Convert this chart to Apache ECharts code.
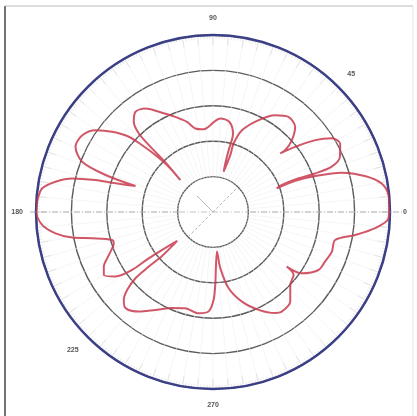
<!DOCTYPE html>
<html><head><meta charset="utf-8">
<script src="https://cdn.jsdelivr.net/npm/echarts@6/dist/echarts.min.js"></script>
<style>html,body{margin:0;padding:0;background:#fff}#c{width:417px;height:416px}</style>
</head><body><div id="c"></div>
<script>
// compass angle (deg, clockwise from top) of each traced point of the pattern
const patternAngle = [358.2,4.5,10.2,14.3,14.2,14.2,14.8,16.9,16.75,19.5,26.4,32.7,38.4,44.0,47.7,49.4,48.9,51.6,54.9,58.2,61.7,66.5,69.1,69.3,68.5,68.6,69.7,69.2,70.6,73.0,76.7,80.4,84.5,88.3,92.1,95.7,99.2,102.9,108.4,113.9,118.8,124.6,126.5,128.0,133.3,139.2,145.3,148.4,155.0,162.1,168.4,172.6,174.2,176.9,178.1,179.6,182.5,188.1,196.0,203.1,210.5,216.7,222.3,225.4,227.8,229.5,229.6,229.2,231.1,233.3,234.2,234.4,236.5,240.0,243.4,247.6,252.5,254.5,257.7,259.7,262.3,265.7,270.1,273.9,277.9,280.9,283.4,285.2,286.4,288.5,289.0,291.0,295.4,300.4,304.9,308.5,311.8,313.3,314.7,315.6,314.4,316.2,316.2,316.6,318.7,322.3,326.9,331.6,338.4,343.9,348.1,353.6,358.2];
// radial level (ring units) of each traced point
const patternGain = [2.45,2.65,2.59,2.29,1.80,1.42,1.18,1.68,2.02,2.45,2.90,3.25,3.43,3.34,3.01,2.69,2.52,2.96,3.53,3.95,4.08,3.91,3.59,3.08,2.60,2.09,1.92,2.48,3.06,3.80,4.41,4.83,4.98,4.98,4.96,4.60,4.07,3.54,3.54,3.46,3.40,3.05,2.59,2.89,3.00,3.34,3.42,3.35,3.05,2.66,2.20,1.60,1.12,1.54,2.01,2.48,2.81,2.89,2.83,2.95,3.21,3.51,3.67,3.54,3.27,2.88,2.38,1.90,1.30,1.79,2.24,2.81,3.30,3.56,3.45,3.18,2.94,2.96,3.49,4.04,4.49,4.84,4.99,4.97,4.87,4.53,4.09,3.44,2.87,2.31,3.21,3.96,4.30,4.28,4.04,3.64,3.19,2.75,2.29,1.79,1.29,1.94,2.55,3.05,3.39,3.58,3.49,3.22,2.89,2.65,2.41,2.35,2.45];
const ringMin = 0, ringMax = 5, ringStep = 1;
const angleTickValues = [0,45,90,180,225,270];
const angleTickLabels = ['90','45','0','270','225','180'];

const chart = echarts.init(document.getElementById('c'), null, {renderer:'canvas'});
const data = patternAngle.map((a,i)=>[patternGain[i], a]);
chart.setOption({
  animation:false,
  backgroundColor:'#fff',
  polar:{center:[213,212], radius:177},
  angleAxis:{
    type:'value', min:0, max:360, interval:5, startAngle:90, clockwise:true,
    axisLine:{lineStyle:{color:'#3b3f86', width:2.5}},
    axisTick:{show:true, inside:true, length:10, lineStyle:{color:'#cfcfcf', width:0.8}},
    minorTick:{show:true, splitNumber:5, length:4, lineStyle:{color:'#d8d8d8', width:0.6}},
    splitLine:{show:true, lineStyle:{color:'#efefef', width:0.6}},
    axisLabel:{show:true, margin:13, fontSize:7, fontWeight:'bold', color:'#555',
      formatter:(v)=>{const k=angleTickValues.indexOf(v);return k>=0?angleTickLabels[k]:'';}}
  },
  radiusAxis:{
    type:'value', min:ringMin, max:ringMax, interval:ringStep,
    axisLine:{show:false}, axisTick:{show:false}, axisLabel:{show:false},
    splitLine:{show:true, lineStyle:{color:'#5c5c5c', width:1.4}}
  },
  graphic:[
    {type:'line', shape:{x1:5,y1:6,x2:5,y2:416}, style:{stroke:'#444', lineWidth:1.5}},
    {type:'line', shape:{x1:5,y1:6,x2:413,y2:6}, style:{stroke:'#bbb', lineWidth:1}},
    {type:'line', shape:{x1:413,y1:6,x2:413,y2:416}, style:{stroke:'#e4e4e4', lineWidth:1}},
    {type:'line', shape:{x1:30,y1:212,x2:405,y2:212}, style:{stroke:'#999', lineWidth:0.8, lineDash:[6,2,1,2]}, z:1},
    {type:'circle', shape:{cx:213,cy:212,r:34}, style:{fill:'#fff'}, z:1},
    {type:'line', shape:{x1:179,y1:212,x2:247,y2:212}, style:{stroke:'#aaa', lineWidth:0.7, lineDash:[6,2,1,2]}, z:1},
    {type:'line', shape:{x1:188,y1:237,x2:238,y2:187}, style:{stroke:'#999', lineWidth:0.7, lineDash:[3,2]}, z:1},
    {type:'line', shape:{x1:197,y1:196,x2:213,y2:212}, style:{stroke:'#999', lineWidth:0.7}, z:1}
  ],
  series:[{
    type:'line', coordinateSystem:'polar', data:data, smooth:0.3, symbol:'none',
    lineStyle:{color:'#c93a4e', width:2, opacity:0.85}, z:5
  }]
});
</script></body></html>
